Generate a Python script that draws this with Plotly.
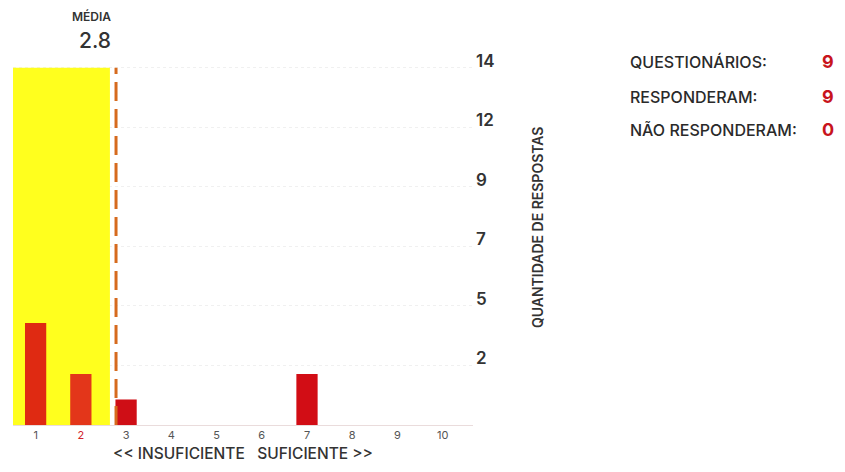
import plotly.graph_objects as go

# ---- data ----
categories = [1, 2, 3, 4, 5, 6, 7, 8, 9, 10]
respostas = [4, 2, 1, 0, 0, 0, 2, 0, 0, 0]
y_tick_values = [14 * k / 6 for k in range(1, 7)]
y_tick_labels = ["2", "5", "7", "9", "12", "14"]
x_tick_labels = ["1", '<span style="color:#d2232a">2</span>', "3", "4", "5", "6", "7", "8", "9", "10"]
info_labels = ["QUESTIONÁRIOS:", "RESPONDERAM:", "NÃO RESPONDERAM:"]
info_values = [9, 9, 0]
y_max = 14

total = sum(respostas)
media = sum(c * n for c, n in zip(categories, respostas)) / total

bar_colors = ["#df2a12", "#e3361a", "#cf0e16", "#cf0e16", "#cf0e16",
              "#cf0e16", "#d20d15", "#cf0e16", "#cf0e16", "#cf0e16"]

MED = "Inter, Roboto, Liberation Sans, Arial, sans-serif"

fig = go.Figure()
fig.add_trace(go.Bar(
    x=categories, y=respostas, width=0.47,
    marker=dict(color=bar_colors, line=dict(width=0)),
    hoverinfo="x+y", showlegend=False,
))

# yellow band up to mean, dashed mean line
fig.add_shape(type="rect", xref="x", yref="y", x0=0.5, x1=media - 0.135, y0=0, y1=y_max,
              fillcolor="#ffff1e", line=dict(width=0), layer="between")
fig.add_shape(type="line", xref="x", yref="y", x0=media, x1=media, y0=0, y1=y_max,
              line=dict(color="#d66a1e", width=3, dash="19px,8px"), layer="above")

fig.update_layout(
    width=829, height=456,
    margin=dict(l=5, r=364, t=52, b=37),
    paper_bgcolor="white", plot_bgcolor="white",
    font=dict(family="Liberation Sans, Arial, sans-serif", color="#333"),
    bargap=0.5,
    xaxis=dict(
        range=[0.5, 10.67], tickmode="array", tickvals=categories, ticktext=x_tick_labels,
        tickfont=dict(size=11, color="#555", family=MED), showgrid=False, zeroline=False,
        showline=True, linecolor="#eadcdc", linewidth=1, ticks="",
        title=dict(text="&lt;&lt; INSUFICIENTE &nbsp; SUFICIENTE &gt;&gt;",
                   font=dict(size=15.5, color="#333", family=MED, weight=500), standoff=6),
    ),
    yaxis=dict(
        range=[0, 14.3], side="right", tickmode="array", tickvals=y_tick_values,
        ticktext=y_tick_labels, tickfont=dict(size=17, color="#333", family=MED, weight=600),
        ticklabelshift=-7, ticklabelstandoff=2, ticks="",
        showgrid=True, gridcolor="#f0f0f0", griddash="dot", gridwidth=1,
        zeroline=False, showline=False,
    ),
)

annotations = [
    dict(text="MÉDIA", xref="x", yref="paper", x=media, y=1.12, xanchor="right",
         yanchor="middle", xshift=-3, showarrow=False,
         font=dict(size=12, color="#333", family=MED, weight=600)),
    dict(text=f"{media:.1f}", xref="x", yref="paper", x=media, y=1.054, xanchor="right",
         yanchor="middle", xshift=-3, showarrow=False,
         font=dict(size=21, color="#333", family=MED, weight=500)),
    dict(text="QUANTIDADE DE RESPOSTAS", xref="paper", yref="paper", x=1.139, y=0.542,
         xanchor="center", yanchor="middle", textangle=-90, showarrow=False,
         font=dict(size=14, color="#333", family=MED, weight=600)),
]
info_y = [0.9946, 0.899, 0.809]
for lab, val, yy in zip(info_labels, info_values, info_y):
    annotations.append(dict(text=lab, xref="paper", yref="paper", x=1.337, y=yy,
                            xanchor="left", yanchor="middle", showarrow=False,
                            font=dict(size=16, color="#2a2a2a", family=MED, weight=500)))
    annotations.append(dict(text=str(val), xref="paper", yref="paper", x=1.772, y=yy,
                            xanchor="center", yanchor="middle", showarrow=False,
                            font=dict(size=18, color="#c8141c", family=MED, weight=700)))
fig.update_layout(annotations=annotations)

fig.write_html("out.html")
